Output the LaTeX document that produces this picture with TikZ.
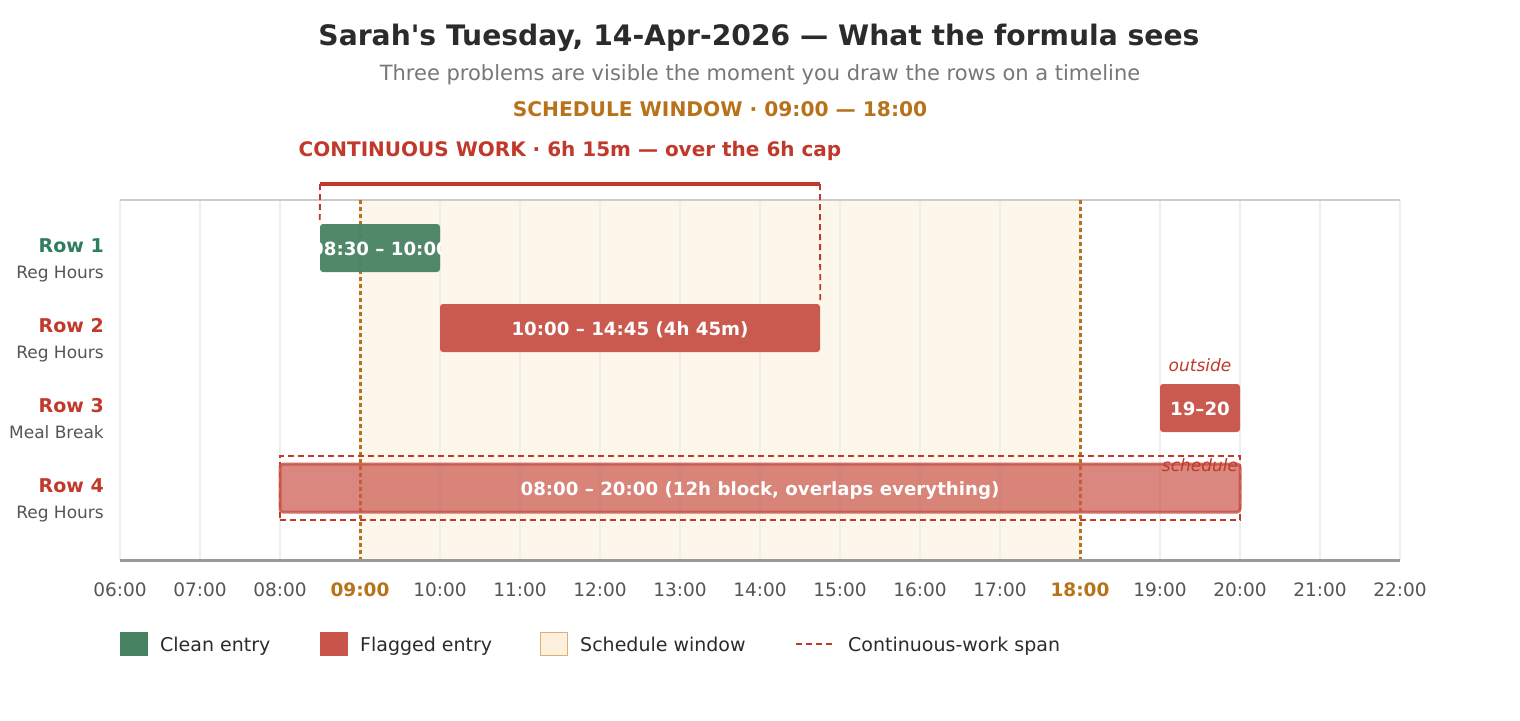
\documentclass[tikz,border=0pt]{standalone}
\usepackage{fontspec}
\setmainfont{DejaVu Sans}[Ligatures=TeXOff]
\definecolor{titleC}{HTML}{2B2B2B}
\definecolor{subC}{HTML}{777777}
\definecolor{labC}{HTML}{555555}
\definecolor{barGreen}{HTML}{478363}
\definecolor{rowGreen}{HTML}{2E7D5B}
\definecolor{barRed}{HTML}{C9554A}
\definecolor{textRed}{HTML}{C0392B}
\definecolor{orangeC}{HTML}{B8731A}
\definecolor{creamC}{HTML}{FDF6EA}
\definecolor{creamL}{HTML}{FDF0DC}
\definecolor{creamB}{HTML}{DFAE70}
\definecolor{gridC}{HTML}{EEEEEA}
\definecolor{topC}{HTML}{CCCCCC}
\definecolor{axisC}{HTML}{999999}
\begin{document}
\begin{tikzpicture}[x=1pt,y=-1pt,
  fs/.style={font=\fontsize{#1}{#1}\selectfont},
  bar/.style={rounded corners=3pt, inner sep=0pt, minimum height=48pt},
  bartext/.style={anchor=base, text=white, font=\fontsize{18.2}{18.2}\selectfont\bfseries, inner sep=0pt},
  rowlab/.style={anchor=base east, font=\fontsize{19}{19}\selectfont\bfseries, inner sep=0pt},
  rowsub/.style={anchor=base east, text=labC, font=\fontsize{17}{17}\selectfont, inner sep=0pt},
  tick/.style={anchor=base, text=labC, font=\fontsize{18.5}{18.5}\selectfont, inner sep=0pt},
  tickhi/.style={anchor=base, text=orangeC, font=\fontsize{18.5}{18.5}\selectfont\bfseries, inner sep=0pt},
  cwdash/.style={draw=textRed, line width=1.8pt, dash pattern=on 6pt off 4pt},
  windash/.style={draw=orangeC, line width=3pt, dash pattern=on 4pt off 3pt},
  legbox/.style={minimum width=28pt, minimum height=24pt, inner sep=0pt},
  legtext/.style={anchor=base west, text=titleC, font=\fontsize{19}{19}\selectfont, inner sep=0pt},
  note/.style={anchor=base, text=textRed, font=\fontsize{17}{17}\selectfont\itshape, inner sep=0pt}
]
\useasboundingbox (0,0) rectangle (1520,720);
\fill[white] (0,0) rectangle (1520,720);

% titles
\node[anchor=base, text=titleC, font=\fontsize{28.2}{28.2}\selectfont\bfseries, inner sep=0pt] (title) at (759,45) {Sarah's Tuesday, 14-Apr-2026 — What the formula sees};
\node[anchor=base, text=subC, fs=21, inner sep=0pt] (subtitle) at (760,80) {Three problems are visible the moment you draw the rows on a timeline};
\node[anchor=base, text=orangeC, font=\fontsize{20.2}{20.2}\selectfont\bfseries, inner sep=0pt] (winlab) at (720,116) {SCHEDULE WINDOW · 09:00 — 18:00};
\node[anchor=base, text=textRed, font=\fontsize{20}{20}\selectfont\bfseries, inner sep=0pt] (cwlab) at (570,156) {CONTINUOUS WORK · 6h 15m — over the 6h cap};

% schedule window background
\fill[creamC] (360,200) rectangle (1080,560);
% grid
\foreach \k in {0,...,16} {
  \draw[gridC, line width=2pt] (120+80*\k,200) -- (120+80*\k,560);
}
\draw[topC, line width=2pt] (120,200) -- (1400,200);
% window bounds
\coordinate (w1t) at (360,200); \coordinate (w1b) at (360,560);
\coordinate (w2t) at (1080,200); \coordinate (w2b) at (1080,560);
\draw[windash] (w1t) -- (w1b);
\draw[windash] (w2t) -- (w2b);

% row labels
\node[rowlab, text=rowGreen] (l1) at (104,252) {Row 1};
\node[rowsub] (s1) at (104,278) {Reg Hours};
\node[rowlab, text=textRed] (l2) at (104,332) {Row 2};
\node[rowsub] (s2) at (104,358) {Reg Hours};
\node[rowlab, text=textRed] (l3) at (104,412) {Row 3};
\node[rowsub] (s3) at (104,438) {Meal Break};
\node[rowlab, text=textRed] (l4) at (104,492) {Row 4};
\node[rowsub] (s4) at (104,518) {Reg Hours};

% row 4 span & bar
\node[draw=textRed, line width=1.8pt, dash pattern=on 6pt off 4pt, minimum width=960pt, minimum height=64pt, inner sep=0pt] (r4span) at (760,488) {};
\node[bar, fill=barRed, fill opacity=0.7, draw=barRed, draw opacity=0.85, line width=3pt, minimum width=960pt, minimum height=48pt] (r4) at (760,488) {};
\node[bartext] (r4t) at (760,495) {08:00 – 20:00 (12h block, overlaps everything)};

% row 1
\node[bar, fill=barGreen, fill opacity=0.95, minimum width=120pt] (r1) at (380,248) {};
\begin{scope}
  \clip (r1.south west) rectangle (r1.north east);
  \node[bartext] (r1t) at (380,255) {08:30 – 10:00};
\end{scope}
% row 2
\node[bar, fill=barRed, fill opacity=0.97, minimum width=380pt] (r2) at (630,328) {};
\node[bartext] (r2t) at (630,335) {10:00 – 14:45 (4h 45m)};
% row 3
\node[bar, fill=barRed, fill opacity=0.97, minimum width=80pt] (r3) at (1200,408) {};
\node[bartext] (r3t) at (1200,415) {19–20};
\node[note] (out) at (1200,371) {outside};
\node[note] (sch) at (1200,471) {schedule};

% continuous work bracket
\coordinate (cwL) at (320,184);
\coordinate (cwR) at (820,184);
\draw[cwdash] (cwL) -- (r1.north west);
\draw[cwdash] (cwR) -- (r2.north east);
\draw[textRed, line width=4pt] (cwL) -- (cwR);

% axis
\draw[axisC, line width=3pt] (120,560) -- (1400,560);
\foreach \k/\t in {0/06:00,1/07:00,2/08:00,4/10:00,5/11:00,6/12:00,7/13:00,8/14:00,9/15:00,10/16:00,11/17:00,13/19:00,14/20:00,15/21:00,16/22:00} {
  \node[tick] (t\k) at (120+80*\k,596) {\t};
}
\node[tickhi] (t3) at (360,596) {09:00};
\node[tickhi] (t12) at (1080,596) {18:00};

% legend
\node[legbox, fill=barGreen] (lg1) at (134,644) {};
\node[legtext] (lg1t) at (160,651) {Clean entry};
\node[legbox, fill=barRed] (lg2) at (334,644) {};
\node[legtext] (lg2t) at (360,651) {Flagged entry};
\node[legbox, fill=creamL, draw=creamB, line width=1.2pt, minimum width=27pt, minimum height=23pt] (lg3) at (554,644) {};
\node[legtext] (lg3t) at (580,651) {Schedule window};
\coordinate (lg4a) at (796,644);
\coordinate (lg4b) at (834,644);
\draw[draw=textRed, line width=1.6pt, dash pattern=on 6pt off 4pt] (lg4a) -- (lg4b);
\node[legtext] (lg4t) at (848,651) {Continuous-work span};
\end{tikzpicture}
\end{document}
